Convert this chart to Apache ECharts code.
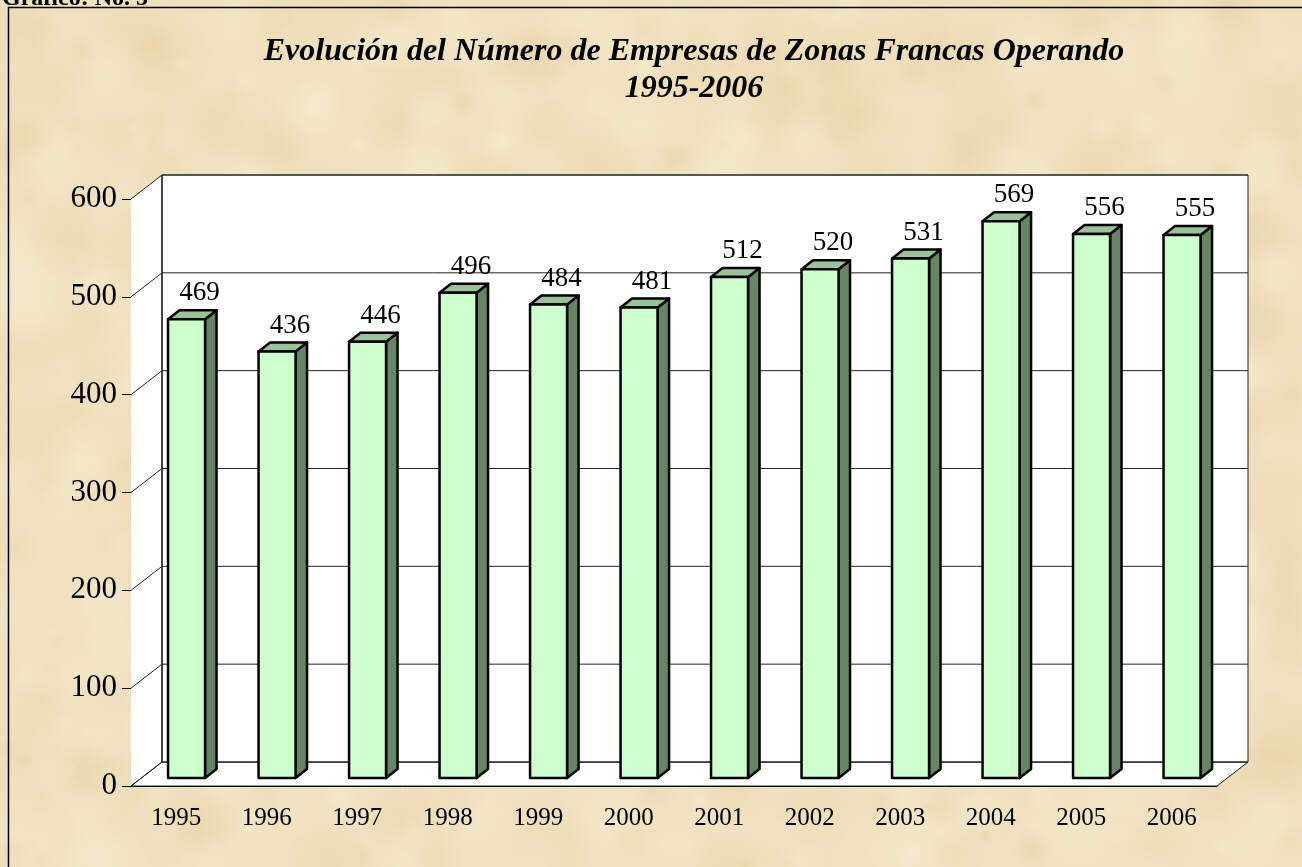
<!DOCTYPE html>
<html>
<head>
<meta charset="utf-8">
<title>Zonas Francas</title>
<script src="https://cdn.jsdelivr.net/npm/echarts@6/dist/echarts.min.js"></script>
<style>
  html, body { margin: 0; padding: 0; }
  #chart { width: 1302px; height: 867px; }
</style>
</head>
<body>
<div id="chart"></div>
<script>
  // datos
  const years = ['1995', '1996', '1997', '1998', '1999', '2000', '2001', '2002', '2003', '2004', '2005', '2006']
  const empresas = [469, 436, 446, 496, 484, 481, 512, 520, 531, 569, 556, 555]
  const yTicks = [0, 100, 200, 300, 400, 500, 600]

  const titleLine1 = 'Evolución del Número de Empresas de Zonas Francas Operando'
  const titleLine2 = '1995-2006'

  // profundidad del "3D"
  const WALL_DX = 31
  const WALL_DY = -24
  const BAR_OX = 10.3
  const BAR_OY = -8
  const BAR_W = 37
  const BAR_DX = 11.5
  const BAR_DY = -9

  // textura tipo pergamino (decorativa, semilla fija)
  function makeParchment (w, h) {
    const c = document.createElement('canvas')
    c.width = w
    c.height = h
    const ctx = c.getContext('2d')
    ctx.fillStyle = '#f0e1bf'
    ctx.fillRect(0, 0, w, h)
    let seed = 12345
    const rnd = function () {
      seed |= 0; seed = seed + 0x6D2B79F5 | 0
      let t = Math.imul(seed ^ seed >>> 15, 1 | seed)
      t = t + Math.imul(t ^ t >>> 7, 61 | t) ^ t
      return ((t ^ t >>> 14) >>> 0) / 4294967296
    }
    const tones = ['rgba(228,205,158,', 'rgba(246,234,206,', 'rgba(234,214,172,', 'rgba(250,240,216,']
    for (let i = 0; i < 1200; i++) {
      const x = rnd() * w
      const y = rnd() * h
      const r = 8 + rnd() * 45
      const tone = tones[Math.floor(rnd() * tones.length)]
      const g = ctx.createRadialGradient(x, y, 0, x, y, r)
      g.addColorStop(0, tone + (0.18 + rnd() * 0.2) + ')')
      g.addColorStop(1, tone + '0)')
      ctx.fillStyle = g
      ctx.beginPath()
      ctx.ellipse(x, y, r * 1.8, r, 0, 0, Math.PI * 2)
      ctx.fill()
    }
    return c
  }

  const mychart = echarts.init(document.getElementById('chart'))

  function renderWalls (params, api) {
    const cs = params.coordSys
    const x0 = cs.x
    const x1 = cs.x + cs.width
    const yBase = api.coord([0, 0])[1]
    const yTop = api.coord([0, 600])[1]
    const bx0 = x0 + WALL_DX
    const bx1 = x1 + WALL_DX
    const lineStyle = { stroke: '#222', lineWidth: 1, fill: null }
    const children = [
      // pared lateral
      { type: 'polygon', shape: { points: [[x0, yBase], [x0, yTop], [bx0, yTop + WALL_DY], [bx0, yBase + WALL_DY]] }, style: { fill: '#fff' } },
      // piso
      { type: 'polygon', shape: { points: [[x0, yBase], [x1, yBase], [bx1, yBase + WALL_DY], [bx0, yBase + WALL_DY]] }, style: { fill: '#fff', stroke: '#222', lineWidth: 1 } },
      // pared del fondo
      { type: 'rect', shape: { x: bx0, y: yTop + WALL_DY, width: bx1 - bx0, height: yBase - yTop }, style: { fill: '#fff', stroke: '#222', lineWidth: 1 } },
      { type: 'line', shape: { x1: bx0, y1: yTop + WALL_DY, x2: bx0, y2: yBase + WALL_DY }, style: { stroke: '#444', lineWidth: 2 } }
    ]
    yTicks.forEach(function (v) {
      const y = api.coord([0, v])[1]
      children.push({ type: 'line', shape: { x1: x0, y1: y, x2: bx0, y2: y + WALL_DY }, style: lineStyle })
      children.push({ type: 'line', shape: { x1: bx0, y1: y + WALL_DY, x2: bx1, y2: y + WALL_DY }, style: lineStyle })
    })
    return { type: 'group', children: children }
  }

  function renderBar (params, api) {
    const i = api.value(0)
    const v = api.value(1)
    const base = api.coord([i, 0])
    const top = api.coord([i, v])
    const fx = base[0] + BAR_OX - BAR_W / 2
    const yB = base[1] + BAR_OY
    const yT = top[1] + BAR_OY
    const edge = { stroke: '#000', lineWidth: 2.5, lineJoin: 'round' }
    return {
      type: 'group',
      children: [
        { type: 'polygon', shape: { points: [[fx + BAR_W, yT], [fx + BAR_W + BAR_DX, yT + BAR_DY], [fx + BAR_W + BAR_DX, yB + BAR_DY], [fx + BAR_W, yB]] }, style: Object.assign({ fill: '#658565' }, edge) },
        { type: 'polygon', shape: { points: [[fx, yT], [fx + BAR_DX, yT + BAR_DY], [fx + BAR_W + BAR_DX, yT + BAR_DY], [fx + BAR_W, yT]] }, style: Object.assign({ fill: '#99c299' }, edge) },
        { type: 'rect', shape: { x: fx, y: yT, width: BAR_W, height: yB - yT }, style: Object.assign({ fill: '#ccffcc' }, edge) },
        {
          type: 'text',
          x: fx + BAR_W / 2 + 13,
          y: yT - 26,
          style: {
            text: String(v),
            font: '27px "Liberation Serif", "Times New Roman", serif',
            fill: '#000',
            align: 'center',
            verticalAlign: 'middle'
          }
        }
      ]
    }
  }

  const option = {
    backgroundColor: { image: makeParchment(1302, 867), repeat: 'no-repeat' },
    animation: false,
    graphic: [
      { type: 'rect', shape: { x: 8.5, y: 7.5, width: 1320, height: 900 }, style: { fill: null, stroke: '#000', lineWidth: 1.5 } },
      { type: 'text', x: 2, y: 11, style: { text: 'Gráfico: No. 5', font: 'bold 24px "Liberation Serif", serif', fill: '#000', verticalAlign: 'bottom' } },
      { type: 'text', x: 694, y: 52, style: { text: titleLine1, font: 'italic bold 32px "Liberation Serif", "Times New Roman", serif', fill: '#000', align: 'center', verticalAlign: 'middle' } },
      { type: 'text', x: 694, y: 89, style: { text: titleLine2, font: 'italic bold 32px "Liberation Serif", "Times New Roman", serif', fill: '#000', align: 'center', verticalAlign: 'middle' } }
    ],
    grid: { left: 131, right: 85, top: 199, bottom: 81 },
    xAxis: {
      type: 'category',
      data: years,
      boundaryGap: true,
      axisLine: { lineStyle: { color: '#000', width: 1 } },
      axisTick: { length: 9, lineStyle: { color: '#000' } },
      axisLabel: { color: '#000', fontSize: 25, fontFamily: 'Liberation Serif', margin: 20 },
      splitLine: { show: false }
    },
    yAxis: {
      type: 'value',
      min: 0,
      max: 600,
      interval: 100,
      axisLine: { show: true, lineStyle: { color: '#000', width: 1 } },
      axisTick: { show: true, length: 9, lineStyle: { color: '#000' } },
      axisLabel: { color: '#000', fontSize: 31, fontFamily: 'Liberation Serif', margin: 14 },
      splitLine: { show: false }
    },
    series: [
      {
        type: 'custom',
        name: 'paredes',
        renderItem: renderWalls,
        data: [[0, 0]],
        silent: true,
        z: 1
      },
      {
        type: 'custom',
        name: 'Empresas',
        renderItem: renderBar,
        data: empresas.map(function (v, i) { return [i, v] }),
        z: 3
      }
    ]
  }

  mychart.setOption(option)
</script>
</body>
</html>
